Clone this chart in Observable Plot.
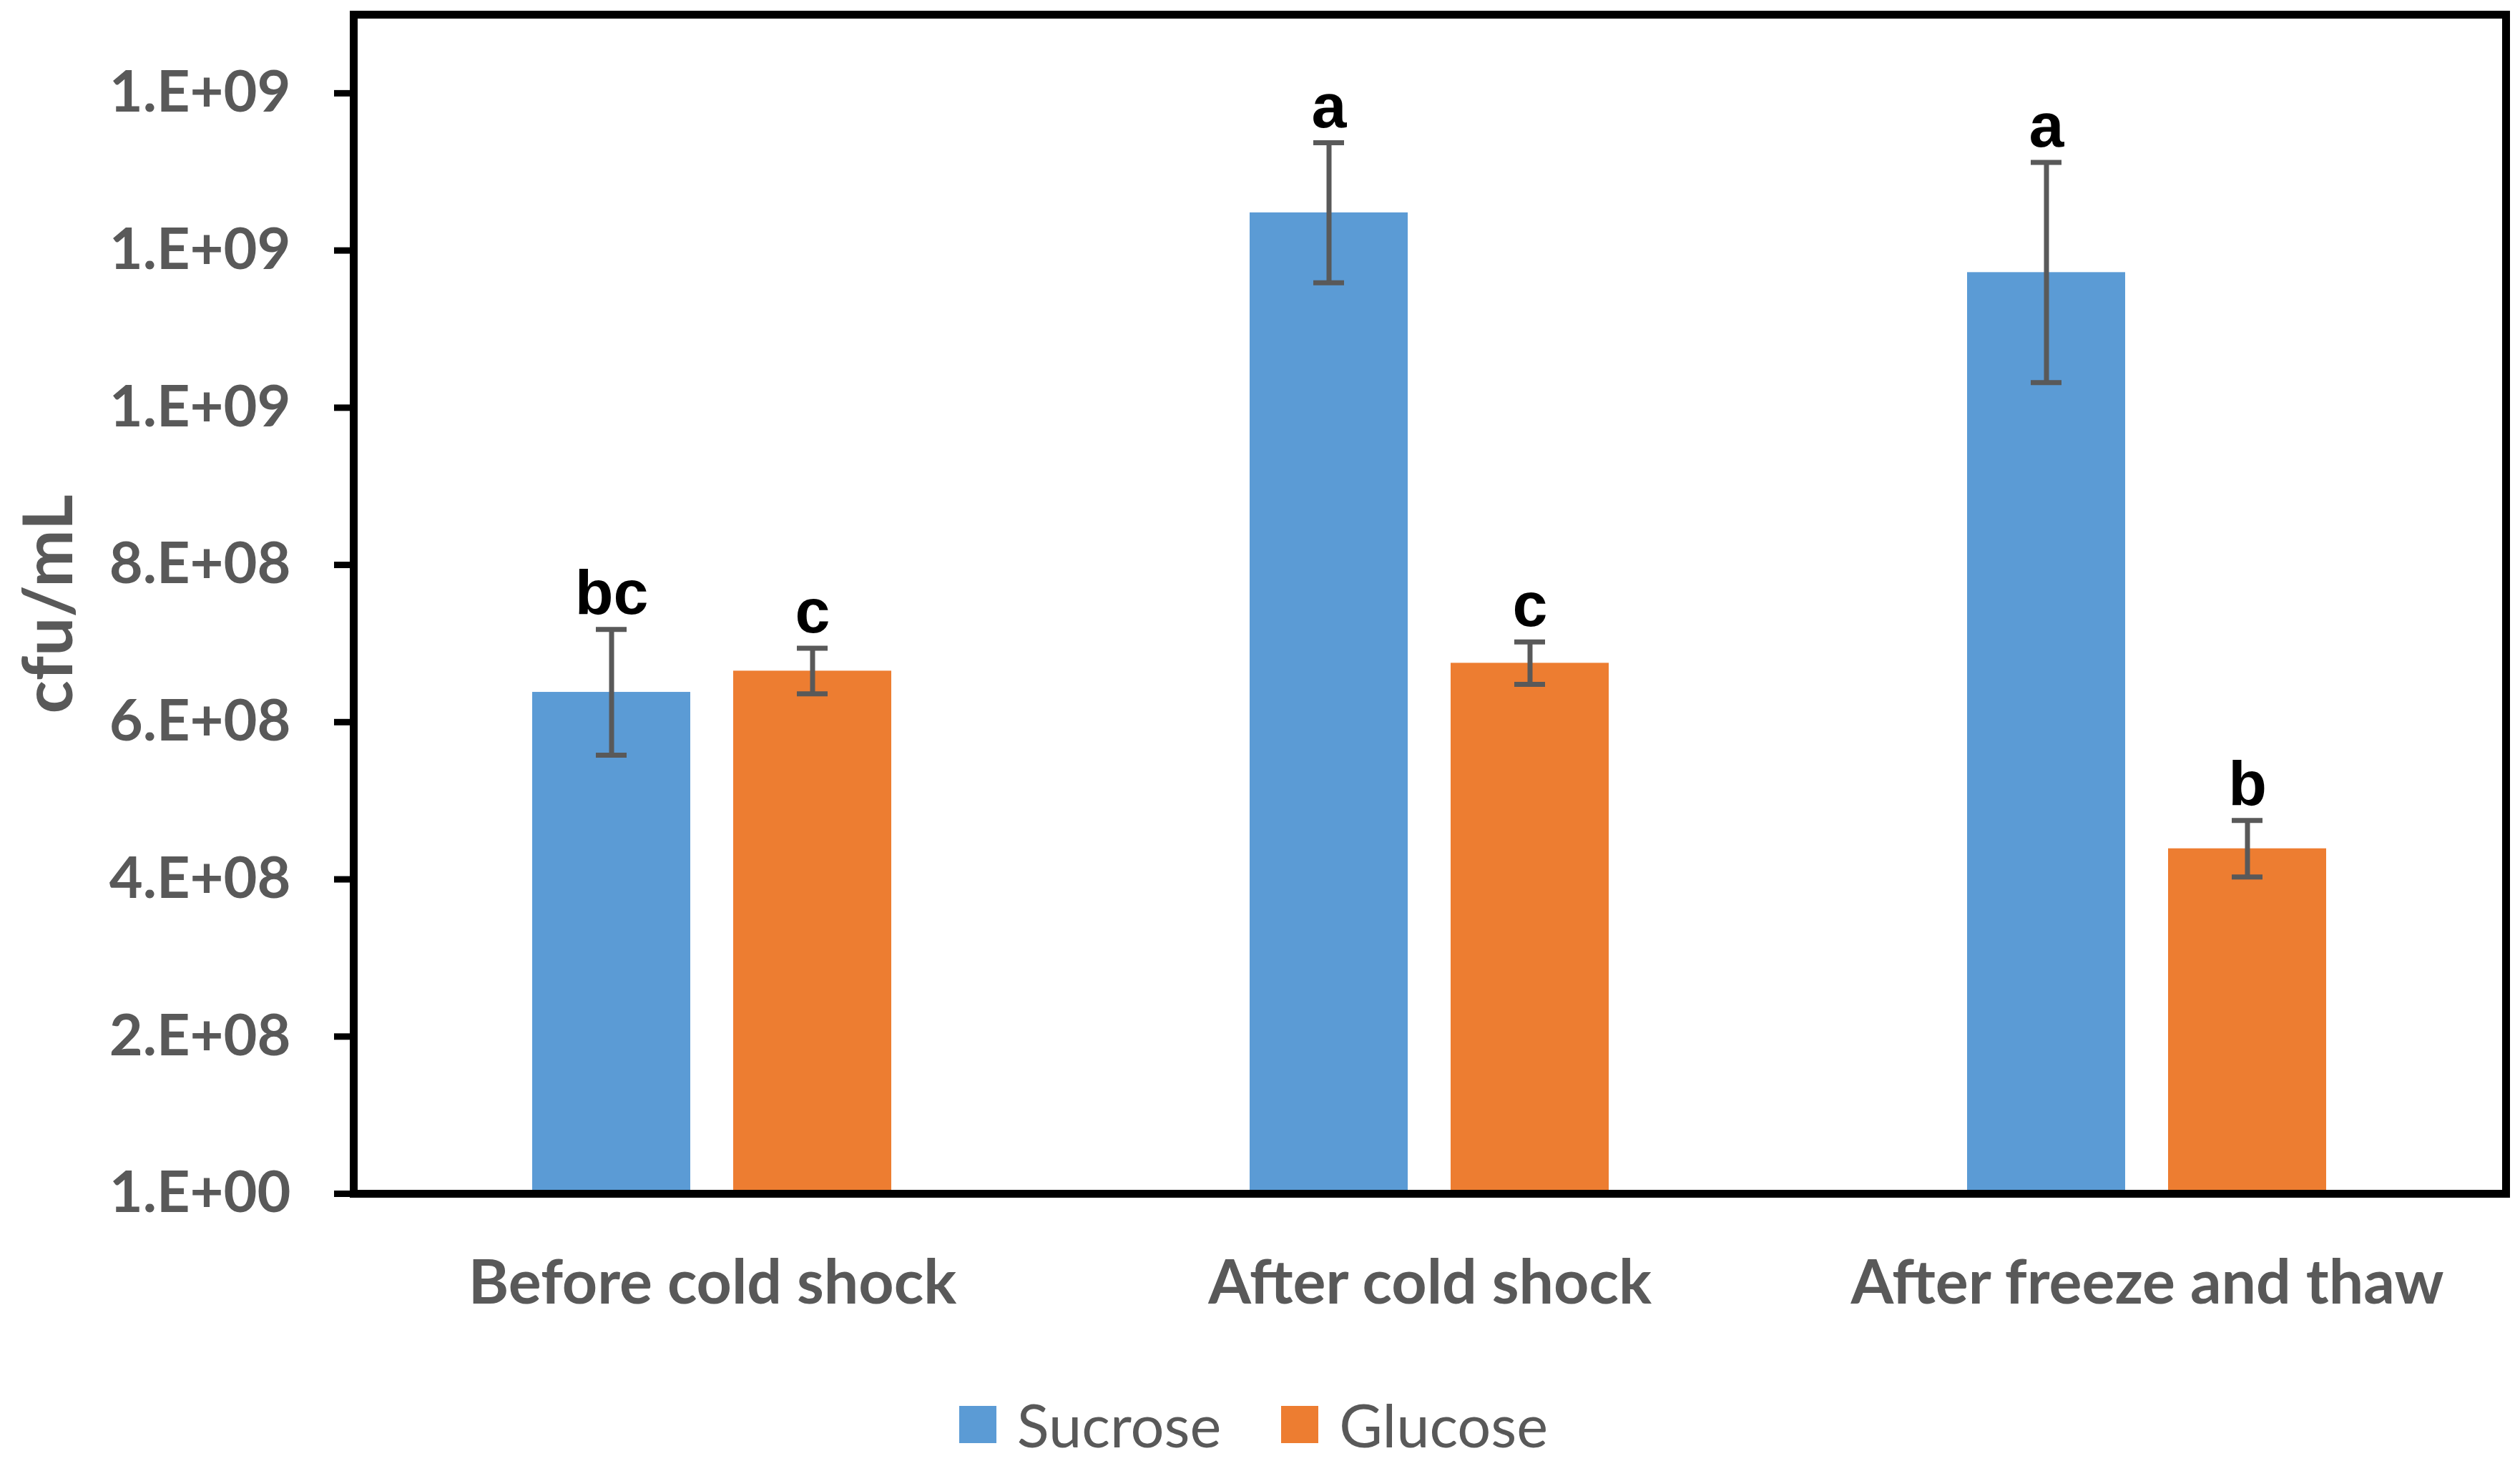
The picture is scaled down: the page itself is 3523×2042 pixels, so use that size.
<!DOCTYPE html>
<html>
<head>
<meta charset="utf-8">
<script src="https://cdn.jsdelivr.net/npm/d3@7"></script>
<script src="https://cdn.jsdelivr.net/npm/@observablehq/plot@0.6"></script>
<style>
  html, body { margin: 0; padding: 0; background: white; }
  #chart svg { display: block; }
  #legend { display: flex; justify-content: center; align-items: center; height: 102px; padding-right: 18px;
            font-family: Lato, sans-serif; font-size: 83px; color: #595959; }
  .item { display: flex; align-items: center; margin: 0 42px; }
  .sw { width: 52px; height: 52px; margin-right: 29px; }
</style>
</head>
<body>
<div id="chart"></div>
<div id="legend"></div>
<script>
const groups = ["Before cold shock", "After cold shock", "After freeze and thaw"];
const series = ["Sucrose", "Glucose"];
const colors = ["#5B9BD5", "#ED7D31"];
const sucrose = [6.38e8, 1.248e9, 1.172e9];
const glucose = [6.65e8, 6.75e8, 4.39e8];
const sucroseErr = [0.80e8, 0.89e8, 1.40e8];
const glucoseErr = [0.29e8, 0.27e8, 0.36e8];
const sucroseLetters = ["bc", "a", "a"];
const glucoseLetters = ["c", "c", "b"];
const yTicks = [1, 2e8, 4e8, 6e8, 8e8, 1e9, 1.2e9, 1.4e9];
const yTickLabels = ["1.E+00", "2.E+08", "4.E+08", "6.E+08", "8.E+08", "1.E+09", "1.E+09", "1.E+09"];
const yLabel = "cfu/mL";

const rows = [];
groups.forEach((g, i) => {
  rows.push({group: g, series: "Sucrose", value: sucrose[i], err: sucroseErr[i], letter: sucroseLetters[i]});
  rows.push({group: g, series: "Glucose", value: glucose[i], err: glucoseErr[i], letter: glucoseLetters[i]});
});
const lo = d => d.value - d.err;
const hi = d => d.value + d.err;
const ebColor = "#595959";

const chart = Plot.plot({
  width: 3523,
  height: 1940,
  marginLeft: 493,
  marginRight: 19,
  marginTop: 20,
  marginBottom: 272,
  style: {fontFamily: "Lato, sans-serif", background: "white"},
  fx: {domain: groups, padding: 0, label: null},
  x: {domain: series, paddingInner: 0.2128, paddingOuter: 0.886, axis: null},
  y: {domain: [1, 1.5e9]},
  color: {domain: series, range: colors},
  marks: [
    Plot.barY(rows, {fx: "group", x: "series", y: "value", fill: "series"}),
    Plot.ruleX(rows, {fx: "group", x: "series", y1: lo, y2: hi, stroke: ebColor, strokeWidth: 7}),
    Plot.tickY(rows, {fx: "group", x: "series", y: lo, stroke: ebColor, strokeWidth: 7, insetLeft: 89, insetRight: 89}),
    Plot.tickY(rows, {fx: "group", x: "series", y: hi, stroke: ebColor, strokeWidth: 7, insetLeft: 89, insetRight: 89}),
    Plot.text(rows, {fx: "group", x: "series", y: hi, text: "letter", lineAnchor: "bottom", dy: -22,
      fontSize: 88, fontWeight: "bold", fontFamily: "Liberation Sans, Arial, sans-serif", fill: "black"}),
    Plot.axisY({ticks: yTicks, tickFormat: d => yTickLabels[yTicks.indexOf(d)], tickSize: 27, tickPadding: 61,
      stroke: "black", strokeWidth: 9, fill: "#595959", fontSize: 81, fontWeight: "bold", label: null}),
    Plot.axisY({ticks: [], label: yLabel, labelAnchor: "center", labelOffset: 462, labelArrow: "none",
      fontSize: 96, fontWeight: "bold", fill: "#595959"}),
    Plot.axisFx({anchor: "bottom", tickSize: 0, tickPadding: 92, fontSize: 86, fontWeight: "bold", fill: "#595959", label: null}),
    Plot.frame({facet: "super", stroke: "black", strokeWidth: 11})
  ]
});
document.getElementById("chart").appendChild(chart);

const legend = document.getElementById("legend");
series.forEach((s, i) => {
  const item = document.createElement("div");
  item.className = "item";
  const sw = document.createElement("div");
  sw.className = "sw";
  sw.style.background = colors[i];
  const t = document.createElement("span");
  t.textContent = s;
  item.appendChild(sw);
  item.appendChild(t);
  legend.appendChild(item);
});
</script>
</body>
</html>
